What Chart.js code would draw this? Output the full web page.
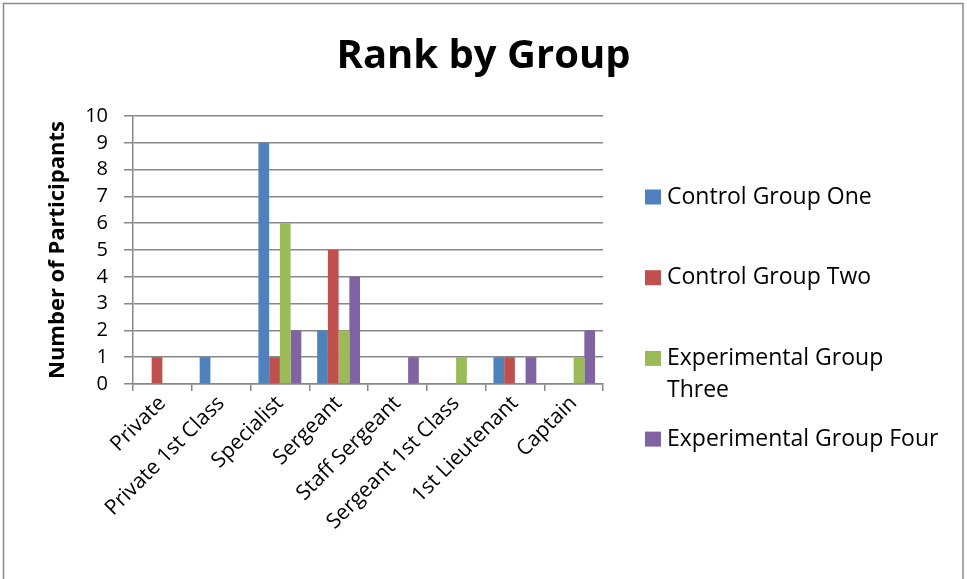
<!DOCTYPE html>
<html>
<head>
<meta charset="utf-8">
<script src="https://cdn.jsdelivr.net/npm/chart.js@4.4.1/dist/chart.umd.min.js"></script>
<style>
html,body{margin:0;padding:0;background:#fff;}
#wrap{position:relative;width:967px;height:579px;}
</style>
</head>
<body>
<div id="wrap"><canvas id="rankChart" width="967" height="579"></canvas></div>
<script>
document.addEventListener("DOMContentLoaded", () => {

const categories=[
"Private",
"Private 1st Class",
"Specialist",
"Sergeant",
"Staff Sergeant",
"Sergeant 1st Class",
"1st Lieutenant",
"Captain"
];

const seriesNames=[
"Control Group One",
"Control Group Two",
"Experimental Group Three",
"Experimental Group Four"
];

const controlOne=[0,1,9,2,0,0,1,0];
const controlTwo=[1,0,1,5,0,0,1,0];
const experimentalThree=[0,0,6,2,0,1,0,1];
const experimentalFour=[0,0,2,4,1,0,1,2];

const seriesColors=["#4f81bd","#c0504d","#9bbb59","#8064a2"];

const yMin=0;
const yMax=10;
const yStep=1;

const FONT="'Open Sans', 'Liberation Sans', sans-serif";
const gridGray="#878787";

// plot box
const plotLeft=133;
const plotRight=603;
const plotBottom=384;

function wrapText(ctx,text,maxWidth){
  const words=text.split(" ");
  const lines=[];
  let line="";
  words.forEach(w=>{
    const test=line?line+" "+w:w;
    if(ctx.measureText(test).width>maxWidth && line){
      lines.push(line);
      line=w;
    }else{
      line=test;
    }
  });
  if(line) lines.push(line);
  return lines;
}

// gray frame round the whole chart
const frame={
  id:"frame",
  beforeDraw(chart){
    const c=chart.ctx;
    c.save();
    c.fillStyle="#fff";
    c.fillRect(0,0,chart.width,chart.height);
    c.strokeStyle="#8a8a8a";
    c.lineWidth=1.5;
    c.strokeRect(3.5,3.5,959.5,640);
    c.restore();
  }
};

// legend on the right, with word wrap like the original
const sideLegend={
  id:"sideLegend",
  afterDraw(chart,args,opts){
    const c=chart.ctx;
    c.save();
    c.font=opts.font;
    c.textBaseline="middle";
    c.textAlign="left";
    chart.data.datasets.forEach((ds,i)=>{
      const y=opts.top+i*opts.spacing;
      c.fillStyle=ds.backgroundColor;
      c.fillRect(opts.left,y-7.5,16,15);
      c.fillStyle="#000";
      wrapText(c,ds.label,opts.maxWidth).forEach((line,j)=>{
        c.fillText(line,opts.left+22,y+j*opts.lineHeight);
      });
    });
    c.restore();
  }
};

const series=[controlOne,controlTwo,experimentalThree,experimentalFour];

new Chart(document.getElementById("rankChart"),{

type:"bar",

data:{
  labels:categories,
  datasets:series.map((vals,i)=>({
    label:seriesNames[i],
    data:vals,
    backgroundColor:seriesColors[i],
    borderWidth:0,
    categoryPercentage:0.73,
    barPercentage:1
  }))
},

options:{
  responsive:false,
  animation:false,
  devicePixelRatio:1,
  layout:{padding:{left:0,right:0,top:0,bottom:0}},
  plugins:{
    legend:{display:false},
    tooltip:{enabled:false},
    title:{
      display:true,
      text:"Rank by Group",
      color:"#000",
      font:{family:FONT,size:40,weight:"bold"},
      padding:{top:33,bottom:35}
    },
    sideLegend:{
      left:645,
      top:197,
      spacing:80.7,
      lineHeight:32,
      maxWidth:276,
      font:"23px "+FONT
    }
  },
  scales:{
    x:{
      offset:true,
      grid:{display:true,drawOnChartArea:false,drawTicks:true,tickLength:7,color:gridGray,lineWidth:1.5},
      border:{display:true,color:gridGray,width:1.5},
      ticks:{color:"#000",font:{family:FONT,size:21},maxRotation:45,minRotation:45,padding:0,autoSkip:false},
      afterFit:s=>{s.height=579-plotBottom;}
    },
    y:{
      min:yMin,
      max:yMax,
      grid:{color:gridGray,lineWidth:1.5,tickLength:9},
      border:{display:true,color:gridGray,width:1.5},
      ticks:{stepSize:yStep,autoSkip:false,color:"#000",font:{family:FONT,size:20},padding:16},
      title:{
        display:true,
        text:"Number of Participants",
        color:"#000",
        font:{family:FONT,size:22,weight:"bold"},
        padding:{top:45,bottom:0}
      },
      afterFit:s=>{s.width=plotLeft;}
    },
    legendSpace:{
      type:"linear",
      position:"right",
      display:true,
      grid:{display:false},
      border:{display:false},
      ticks:{display:false},
      afterFit:s=>{s.width=967-plotRight;}
    }
  }
},

plugins:[frame,sideLegend]

});

});
</script>
</body>
</html>
